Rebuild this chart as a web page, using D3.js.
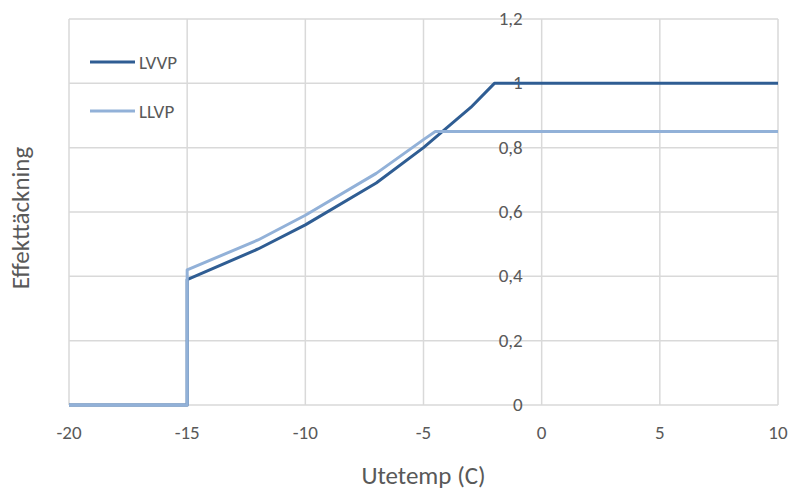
<!DOCTYPE html>
<html>
<head>
<meta charset="utf-8">
<script src="https://cdn.jsdelivr.net/npm/d3@7"></script>
<style>
body { margin: 0; background: #fff; }
text { font-family: Carlito, "Open Sans", sans-serif; fill: #595959; }
</style>
</head>
<body>
<div id="chart"></div>
<script>
var width = 789, height = 491;
var margin = {left: 69, right: 11, top: 19, bottom: 86};

var xTicks = [-20, -15, -10, -5, 0, 5, 10];
var yTicks = [0, 0.2, 0.4, 0.6, 0.8, 1, 1.2];
var seriesNames = ["LVVP", "LLVP"];
var seriesColors = ["#2f5d93", "#92b1d8"];
var lvvpX = [-20, -15, -15, -12, -10, -7, -5, -3, -2, 10];
var lvvpY = [0, 0, 0.39, 0.485, 0.56, 0.69, 0.80, 0.925, 1, 1];
var llvpX = [-20, -15, -15, -12, -10, -7, -5, -4.5, 10];
var llvpY = [0, 0, 0.42, 0.513, 0.59, 0.72, 0.825, 0.85, 0.85];

var svg = d3.select("#chart").append("svg")
    .attr("width", width)
    .attr("height", height);

var x = d3.scaleLinear().domain([-20, 10]).range([margin.left, width - margin.right]);
var y = d3.scaleLinear().domain([0, 1.2]).range([height - margin.bottom, margin.top]);

// grid
svg.selectAll(".vgrid").data(xTicks).enter().append("line")
    .attr("x1", function(d) { return x(d); })
    .attr("x2", function(d) { return x(d); })
    .attr("y1", y(0))
    .attr("y2", y(1.2))
    .attr("stroke", "#d9d9d9")
    .attr("stroke-width", 1.5);
svg.selectAll(".hgrid").data(yTicks).enter().append("line")
    .attr("x1", x(-20))
    .attr("x2", x(10))
    .attr("y1", function(d) { return y(d); })
    .attr("y2", function(d) { return y(d); })
    .attr("stroke", "#d9d9d9")
    .attr("stroke-width", 1.5);

// x tick labels
svg.selectAll(".xlab").data(xTicks).enter().append("text")
    .attr("x", function(d) { return x(d); })
    .attr("y", y(0) + 34)
    .attr("text-anchor", "middle")
    .attr("font-size", "19px")
    .text(function(d) { return d; });

// y tick labels, sitting on the x=0 axis
svg.selectAll(".ylab").data(yTicks).enter().append("text")
    .attr("x", x(0) - 19)
    .attr("y", function(d) { return y(d) + 6; })
    .attr("text-anchor", "end")
    .attr("font-size", "19px")
    .text(function(d) { return String(d).replace(".", ","); });

var line = d3.line()
    .x(function(d) { return x(d[0]); })
    .y(function(d) { return y(d[1]); });

var lvvp = d3.zip(lvvpX, lvvpY);
var llvp = d3.zip(llvpX, llvpY);

svg.append("path").datum(lvvp)
    .attr("d", line)
    .attr("fill", "none")
    .attr("stroke", seriesColors[0])
    .attr("stroke-width", 3)
    .attr("stroke-linejoin", "round");
svg.append("path").datum(llvp)
    .attr("d", line)
    .attr("fill", "none")
    .attr("stroke", seriesColors[1])
    .attr("stroke-width", 3)
    .attr("stroke-linejoin", "round");

// legend
seriesNames.forEach(function(name, i) {
    var ly = 62 + i * 49;
    svg.append("line")
        .attr("x1", 90).attr("x2", 135)
        .attr("y1", ly).attr("y2", ly)
        .attr("stroke", seriesColors[i])
        .attr("stroke-width", 3);
    svg.append("text")
        .attr("x", 139)
        .attr("y", ly + 7)
        .attr("font-size", "19px")
        .text(name);
});

// axis titles
svg.append("text")
    .attr("x", (x(-20) + x(10)) / 2)
    .attr("y", 484)
    .attr("text-anchor", "middle")
    .attr("font-size", "25px")
    .text("Utetemp (C)");
svg.append("text")
    .attr("transform", "translate(29,218) rotate(-90)")
    .attr("text-anchor", "middle")
    .attr("font-size", "25px")
    .text("Effekttäckning");
</script>
</body>
</html>
